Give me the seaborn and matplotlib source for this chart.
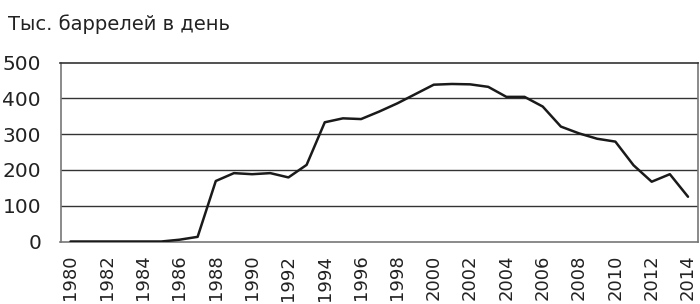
import matplotlib
matplotlib.use("Agg")
import matplotlib.pyplot as plt
import seaborn as sns
import pandas as pd

years = list(range(1980, 2015))
values = [0, 0, 0, 0, 0, 0, 5, 13, 169, 191, 188, 191, 179, 214, 333, 344, 342,
          363, 386, 412, 438, 440, 439, 432, 404, 404, 377, 321, 302, 287, 279,
          213, 167, 188, 125]
yticks = [0, 100, 200, 300, 400, 500]
xticks = list(range(1980, 2015, 2))
title = "Тыс. баррелей в день"

df = pd.DataFrame({"year": years, "value": values})

sns.set_theme(style="white")
plt.rcParams["font.family"] = ["DejaVu Sans"]

fig = plt.figure(figsize=(7.0, 3.04), dpi=100)
ax = fig.add_axes([60.5 / 700, 1 - 241.5 / 304, (698 - 60.5) / 700, (241.5 - 62.5) / 304])

for y in [100, 200, 300, 400]:
    ax.axhline(y, color="#333333", lw=1.0, zorder=1)

sns.lineplot(data=df, x="year", y="value", ax=ax, color="#1a1a1a", lw=1.8, zorder=3)

ax.set_xlim(1979.45, 2014.55)
ax.set_ylim(0, 500)
ax.set_yticks(yticks)
ax.set_yticklabels([str(v) for v in yticks], fontsize=14.5, color="#222222")
ax.set_xticks(xticks)
ax.set_xticklabels([str(v) for v in xticks], rotation=90, fontsize=13, color="#222222")
ax.tick_params(axis="x", length=0, pad=9.5)
ax.tick_params(axis="y", length=0, pad=14)
ax.set_xlabel("")
ax.set_ylabel("")
for side in ["left", "right", "bottom"]:
    ax.spines[side].set_color("#777777")
    ax.spines[side].set_linewidth(1.2)
ax.spines["top"].set_color("#333333")
ax.spines["top"].set_linewidth(1.2)

fig.text(8 / 700, 1 - 24 / 304, title, fontsize=14, color="#222222", va="center", ha="left")

fig.savefig("out.png", dpi=100)
